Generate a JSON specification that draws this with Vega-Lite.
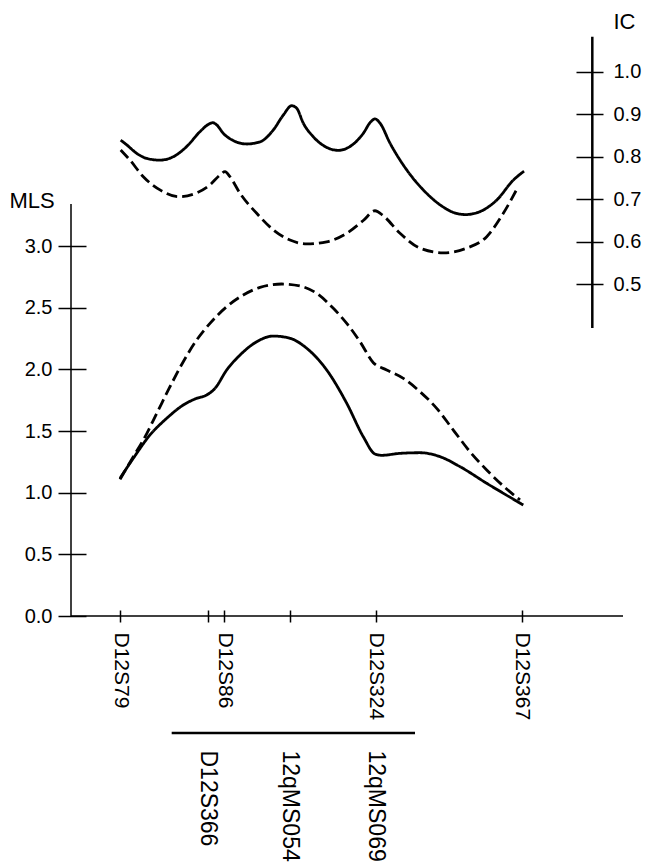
{
  "$schema": "https://vega.github.io/schema/vega-lite/v6.json",
  "width": 552,
  "height": 579,
  "autosize": {"type": "none"},
  "padding": {"left": 71, "top": 37, "right": 23, "bottom": 250},
  "background": "white",
  "config": {
    "view": {"stroke": null},
    "font": "Liberation Sans",
    "axis": {"grid": false, "labelColor": "black", "tickColor": "black", "domainColor": "black", "titleColor": "black", "labelFont": "Liberation Sans", "titleFont": "Liberation Sans", "titleFontWeight": "normal", "labelOverlap": false}
  },
  "datasets": {
    "mls": [
      {"series": "A", "x": 8.88, "y": 1.117}, {"series": "A", "x": 11.29, "y": 1.279}, {"series": "A", "x": 14.31, "y": 1.468}, {"series": "A", "x": 17.34, "y": 1.603}, {"series": "A", "x": 20.34, "y": 1.711}, {"series": "A", "x": 22.77, "y": 1.765}, {"series": "A", "x": 24.58, "y": 1.792}, {"series": "A", "x": 26.09, "y": 1.846}, {"series": "A", "x": 28.21, "y": 1.995}, {"series": "A", "x": 30.62, "y": 2.116}, {"series": "A", "x": 33.64, "y": 2.224}, {"series": "A", "x": 36.65, "y": 2.27}, {"series": "A", "x": 39.67, "y": 2.252}, {"series": "A", "x": 42.7, "y": 2.171}, {"series": "A", "x": 46.32, "y": 1.995}, {"series": "A", "x": 49.95, "y": 1.725}, {"series": "A", "x": 52.95, "y": 1.454}, {"series": "A", "x": 55.07, "y": 1.314}, {"series": "A", "x": 56.28, "y": 1.303}, {"series": "A", "x": 59.6, "y": 1.319}, {"series": "A", "x": 63.22, "y": 1.324}, {"series": "A", "x": 66.85, "y": 1.292}, {"series": "A", "x": 70.47, "y": 1.211}, {"series": "A", "x": 75.31, "y": 1.076}, {"series": "A", "x": 81.94, "y": 0.9},
      {"series": "B", "x": 8.88, "y": 1.108}, {"series": "B", "x": 11.29, "y": 1.292}, {"series": "B", "x": 13.1, "y": 1.427}, {"series": "B", "x": 15.53, "y": 1.643}, {"series": "B", "x": 17.93, "y": 1.859}, {"series": "B", "x": 20.34, "y": 2.062}, {"series": "B", "x": 22.77, "y": 2.238}, {"series": "B", "x": 25.18, "y": 2.373}, {"series": "B", "x": 28.21, "y": 2.508}, {"series": "B", "x": 31.21, "y": 2.603}, {"series": "B", "x": 34.24, "y": 2.665}, {"series": "B", "x": 38.17, "y": 2.692}, {"series": "B", "x": 41.49, "y": 2.676}, {"series": "B", "x": 44.51, "y": 2.616}, {"series": "B", "x": 47.52, "y": 2.495}, {"series": "B", "x": 49.95, "y": 2.373}, {"series": "B", "x": 52.36, "y": 2.224}, {"series": "B", "x": 54.77, "y": 2.054}, {"series": "B", "x": 57.19, "y": 1.995}, {"series": "B", "x": 60.2, "y": 1.927}, {"series": "B", "x": 63.22, "y": 1.819}, {"series": "B", "x": 66.25, "y": 1.684}, {"series": "B", "x": 69.26, "y": 1.508}, {"series": "B", "x": 72.28, "y": 1.332}, {"series": "B", "x": 75.31, "y": 1.184}, {"series": "B", "x": 78.32, "y": 1.054}, {"series": "B", "x": 81.34, "y": 0.941}
    ],
    "ic": [
      {"series": "A", "x": 9.0, "y": 0.839}, {"series": "A", "x": 10.09, "y": 0.828}, {"series": "A", "x": 11.9, "y": 0.808}, {"series": "A", "x": 13.71, "y": 0.796}, {"series": "A", "x": 16.12, "y": 0.792}, {"series": "A", "x": 18.53, "y": 0.8}, {"series": "A", "x": 20.96, "y": 0.824}, {"series": "A", "x": 23.37, "y": 0.859}, {"series": "A", "x": 24.87, "y": 0.876}, {"series": "A", "x": 25.67, "y": 0.88}, {"series": "A", "x": 26.39, "y": 0.875}, {"series": "A", "x": 27.59, "y": 0.855}, {"series": "A", "x": 29.4, "y": 0.838}, {"series": "A", "x": 31.83, "y": 0.83}, {"series": "A", "x": 34.24, "y": 0.835}, {"series": "A", "x": 36.65, "y": 0.863}, {"series": "A", "x": 38.46, "y": 0.898}, {"series": "A", "x": 39.98, "y": 0.92}, {"series": "A", "x": 40.89, "y": 0.914}, {"series": "A", "x": 42.08, "y": 0.879}, {"series": "A", "x": 43.89, "y": 0.847}, {"series": "A", "x": 46.32, "y": 0.822}, {"series": "A", "x": 48.42, "y": 0.815}, {"series": "A", "x": 50.54, "y": 0.824}, {"series": "A", "x": 52.95, "y": 0.855}, {"series": "A", "x": 54.29, "y": 0.882}, {"series": "A", "x": 55.07, "y": 0.889}, {"series": "A", "x": 55.98, "y": 0.879}, {"series": "A", "x": 57.79, "y": 0.832}, {"series": "A", "x": 60.82, "y": 0.769}, {"series": "A", "x": 63.82, "y": 0.722}, {"series": "A", "x": 66.85, "y": 0.687}, {"series": "A", "x": 69.5, "y": 0.668}, {"series": "A", "x": 71.5, "y": 0.664}, {"series": "A", "x": 74.09, "y": 0.671}, {"series": "A", "x": 77.12, "y": 0.698}, {"series": "A", "x": 80.13, "y": 0.745}, {"series": "A", "x": 82.07, "y": 0.766},
      {"series": "B", "x": 9.0, "y": 0.816}, {"series": "B", "x": 10.69, "y": 0.792}, {"series": "B", "x": 13.1, "y": 0.753}, {"series": "B", "x": 16.12, "y": 0.722}, {"series": "B", "x": 19.44, "y": 0.706}, {"series": "B", "x": 22.77, "y": 0.715}, {"series": "B", "x": 25.18, "y": 0.734}, {"series": "B", "x": 26.99, "y": 0.757}, {"series": "B", "x": 27.9, "y": 0.765}, {"series": "B", "x": 28.8, "y": 0.753}, {"series": "B", "x": 30.62, "y": 0.714}, {"series": "B", "x": 33.64, "y": 0.667}, {"series": "B", "x": 36.65, "y": 0.628}, {"series": "B", "x": 39.67, "y": 0.604}, {"series": "B", "x": 42.7, "y": 0.595}, {"series": "B", "x": 46.32, "y": 0.6}, {"series": "B", "x": 49.95, "y": 0.62}, {"series": "B", "x": 52.95, "y": 0.65}, {"series": "B", "x": 55.07, "y": 0.673}, {"series": "B", "x": 56.58, "y": 0.661}, {"series": "B", "x": 59.6, "y": 0.62}, {"series": "B", "x": 63.22, "y": 0.585}, {"series": "B", "x": 67.45, "y": 0.574}, {"series": "B", "x": 71.68, "y": 0.585}, {"series": "B", "x": 75.31, "y": 0.612}, {"series": "B", "x": 78.32, "y": 0.667}, {"series": "B", "x": 81.03, "y": 0.73}
    ]
  },
  "layer": [
    {
      "layer": [
        {
          "data": {"name": "mls"},
          "mark": {"type": "line", "interpolate": "monotone", "color": "black", "strokeWidth": 2.8},
          "encoding": {
            "x": {
              "field": "x", "type": "quantitative",
              "scale": {"domain": [0, 100], "nice": false, "zero": false},
              "axis": {
                "orient": "bottom", "title": null,
                "values": [8.88, 24.76, 27.72, 39.67, 55.25, 81.65],
                "labelExpr": "datum.value == 8.88 ? 'D12S79' : datum.value == 27.72 ? 'D12S86' : datum.value == 55.25 ? 'D12S324' : datum.value == 81.65 ? 'D12S367' : ''",
                "labelAngle": 90, "labelFontSize": 21, "labelPadding": 10,
                "tickSize": 12, "tickWidth": 1.5, "offset": -6, "domain": false
              }
            },
            "y": {
              "field": "y", "type": "quantitative",
              "scale": {"domain": [0, 4.695], "nice": false, "zero": false},
              "axis": {
                "orient": "left", "values": [0, 0.5, 1, 1.5, 2, 2.5, 3], "format": ".1f",
                "labelFontSize": 20, "tickSize": 28, "tickWidth": 1.5, "offset": -15, "labelPadding": 6,
                "domain": false, "title": "MLS", "titleAngle": 0, "titleAlign": "left", "titleBaseline": "alphabetic",
                "titleX": -77, "titleY": 170, "titleFontSize": 22
              }
            },
            "strokeDash": {"field": "series", "type": "nominal", "scale": {"domain": ["A", "B"], "range": [[1, 0], [11, 5]]}, "legend": null}
          }
        },
        {
          "data": {"values": [{}]},
          "mark": {"type": "rule", "color": "black", "strokeWidth": 1.5},
          "encoding": {"x": {"datum": 0}, "y": {"datum": 0}, "y2": {"datum": 3.34}}
        },
        {
          "data": {"values": [{}]},
          "mark": {"type": "rule", "color": "black", "strokeWidth": 1.5},
          "encoding": {"x": {"datum": 0}, "x2": {"datum": 100}, "y": {"datum": 0}}
        },
        {
          "data": {"values": [{}]},
          "mark": {"type": "rule", "color": "black", "strokeWidth": 2.5},
          "encoding": {"x": {"datum": 18.24}, "x2": {"datum": 62.32}, "y": {"datum": -0.949}}
        }
      ]
    },
    {
      "layer": [
        {
          "data": {"name": "ic"},
          "mark": {"type": "line", "interpolate": "monotone", "color": "black", "strokeWidth": 2.8},
          "encoding": {
            "x": {
              "field": "x", "type": "quantitative",
              "scale": {"domain": [0, 100], "nice": false, "zero": false},
              "axis": {
                "orient": "bottom", "title": null,
                "values": [24.76, 39.67, 55.25],
                "labelExpr": "datum.value == 24.76 ? 'D12S366' : datum.value == 39.67 ? '12qMS054' : '12qMS069'",
                "labelAngle": 90, "labelFontSize": 23, "labelPadding": 17,
                "ticks": false, "tickSize": 0, "offset": 117, "domain": false
              }
            },
            "y": {
              "field": "y", "type": "quantitative",
              "scale": {"domain": [-0.2801, 1.0816], "nice": false, "zero": false},
              "axis": {
                "orient": "right", "values": [0.5, 0.6, 0.7, 0.8, 0.9, 1.0], "format": ".1f",
                "labelFontSize": 20, "tickSize": 27, "tickWidth": 1.5, "offset": -47, "labelPadding": 10,
                "domain": false, "title": "IC", "titleAngle": 0, "titleAlign": "left", "titleBaseline": "alphabetic",
                "titleX": 37, "titleY": -9, "titleFontSize": 22
              }
            },
            "strokeDash": {"field": "series", "type": "nominal", "scale": {"domain": ["A", "B"], "range": [[1, 0], [11, 5]]}, "legend": null}
          }
        },
        {
          "data": {"values": [{}]},
          "mark": {"type": "rule", "color": "black", "strokeWidth": 2.5},
          "encoding": {"x": {"datum": 94.44}, "y": {"datum": 0.397}, "y2": {"datum": 1.082}}
        }
      ]
    }
  ],
  "resolve": {
    "scale": {"y": "independent"},
    "axis": {"y": "independent", "x": "independent"}
  }
}
